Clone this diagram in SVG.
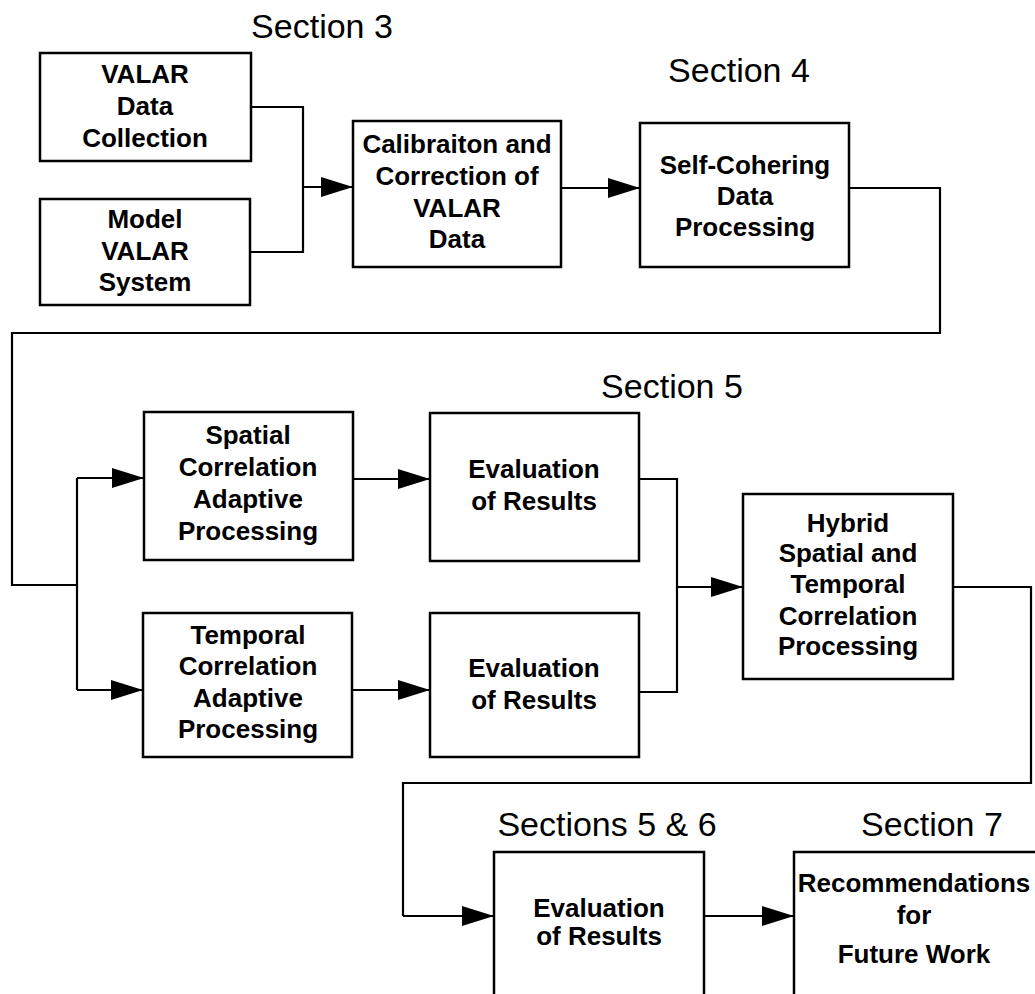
<svg xmlns="http://www.w3.org/2000/svg" width="1035" height="994" viewBox="0 0 1035 994">
<style>
.box{fill:#fff;stroke:#000;stroke-width:2.5}
.t{font-family:"Liberation Sans",Arial,sans-serif;font-weight:bold;font-size:26px;text-anchor:middle;fill:#000}
.sec{font-family:"Liberation Sans",Arial,sans-serif;font-size:34px;text-anchor:middle;fill:#000}
.ln{fill:none;stroke:#000;stroke-width:2.2}
.ar{fill:none;stroke:#000;stroke-width:2.2;marker-end:url(#ah)}
</style>
<defs>
<marker id="ah" markerUnits="userSpaceOnUse" markerWidth="32" markerHeight="20" refX="32" refY="10" orient="auto">
<path d="M0,0 L32,10 L0,20 z" fill="#000"/>
</marker>
</defs>
<rect width="1035" height="994" fill="#fff"/>
<g id="labels">
<text class="sec" x="322" y="38">Section 3</text>
<text class="sec" x="739" y="82">Section 4</text>
<text class="sec" x="672" y="398">Section 5</text>
<text class="sec" x="607" y="836">Sections 5 &amp; 6</text>
<text class="sec" x="932" y="836">Section 7</text>
</g>
<g id="connectors">
<polyline class="ln" points="251,107 303,107 303,252 250,252"/>
<line class="ar" x1="303" y1="187" x2="353" y2="187"/>
<line class="ar" x1="561" y1="188" x2="640" y2="188"/>
<polyline class="ln" points="849,188 940,188 940,333 12,333 12,585 77,585"/>
<line class="ln" x1="77" y1="478" x2="77" y2="690"/>
<line class="ar" x1="77" y1="478" x2="144" y2="478"/>
<line class="ar" x1="77" y1="690" x2="143" y2="690"/>
<line class="ar" x1="353" y1="479" x2="430" y2="479"/>
<line class="ar" x1="352" y1="690" x2="430" y2="690"/>
<polyline class="ln" points="639,479 677,479 677,692 639,692"/>
<line class="ar" x1="677" y1="587" x2="743" y2="587"/>
<polyline class="ln" points="953,587 1031,587 1031,783 403,783 403,916"/>
<line class="ar" x1="403" y1="916" x2="494" y2="916"/>
<line class="ar" x1="704" y1="916" x2="794" y2="916"/>
</g>
<g id="n-valar-data">
<rect class="box" x="40" y="53" width="211" height="108"/>
<text class="t" x="145" y="83">VALAR</text>
<text class="t" x="145" y="115">Data</text>
<text class="t" x="145" y="147">Collection</text>
</g>
<g id="n-model">
<rect class="box" x="40" y="199" width="210" height="106"/>
<text class="t" x="145" y="228">Model</text>
<text class="t" x="145" y="260">VALAR</text>
<text class="t" x="145" y="291">System</text>
</g>
<g id="n-calibration">
<rect class="box" x="353" y="121" width="208" height="146"/>
<text class="t" x="457" y="153">Calibraiton and</text>
<text class="t" x="457" y="185">Correction of</text>
<text class="t" x="457" y="217">VALAR</text>
<text class="t" x="457" y="248">Data</text>
</g>
<g id="n-selfcohering">
<rect class="box" x="640" y="123" width="209" height="144"/>
<text class="t" x="745" y="174">Self-Cohering</text>
<text class="t" x="745" y="205">Data</text>
<text class="t" x="745" y="236">Processing</text>
</g>
<g id="n-spatial">
<rect class="box" x="144" y="412" width="209" height="148"/>
<text class="t" x="248" y="444">Spatial</text>
<text class="t" x="248" y="476">Correlation</text>
<text class="t" x="248" y="508">Adaptive</text>
<text class="t" x="248" y="540">Processing</text>
</g>
<g id="n-temporal">
<rect class="box" x="143" y="613" width="209" height="144"/>
<text class="t" x="248" y="644">Temporal</text>
<text class="t" x="248" y="675">Correlation</text>
<text class="t" x="248" y="707">Adaptive</text>
<text class="t" x="248" y="738">Processing</text>
</g>
<g id="n-eval1">
<rect class="box" x="430" y="413" width="209" height="148"/>
<text class="t" x="534" y="478">Evaluation</text>
<text class="t" x="534" y="510">of Results</text>
</g>
<g id="n-eval2">
<rect class="box" x="430" y="613" width="209" height="144"/>
<text class="t" x="534" y="677">Evaluation</text>
<text class="t" x="534" y="709">of Results</text>
</g>
<g id="n-hybrid">
<rect class="box" x="743" y="494" width="210" height="185"/>
<text class="t" x="848" y="532">Hybrid</text>
<text class="t" x="848" y="562">Spatial and</text>
<text class="t" x="848" y="593">Temporal</text>
<text class="t" x="848" y="625">Correlation</text>
<text class="t" x="848" y="655">Processing</text>
</g>
<g id="n-eval3">
<rect class="box" x="494" y="852" width="210" height="160"/>
<text class="t" x="599" y="917">Evaluation</text>
<text class="t" x="599" y="945">of Results</text>
</g>
<g id="n-recommendations">
<rect class="box" x="794" y="852" width="260" height="160"/>
<text class="t" x="914" y="892">Recommendations</text>
<text class="t" x="914" y="924">for</text>
<text class="t" x="914" y="963">Future Work</text>
</g>
</svg>
